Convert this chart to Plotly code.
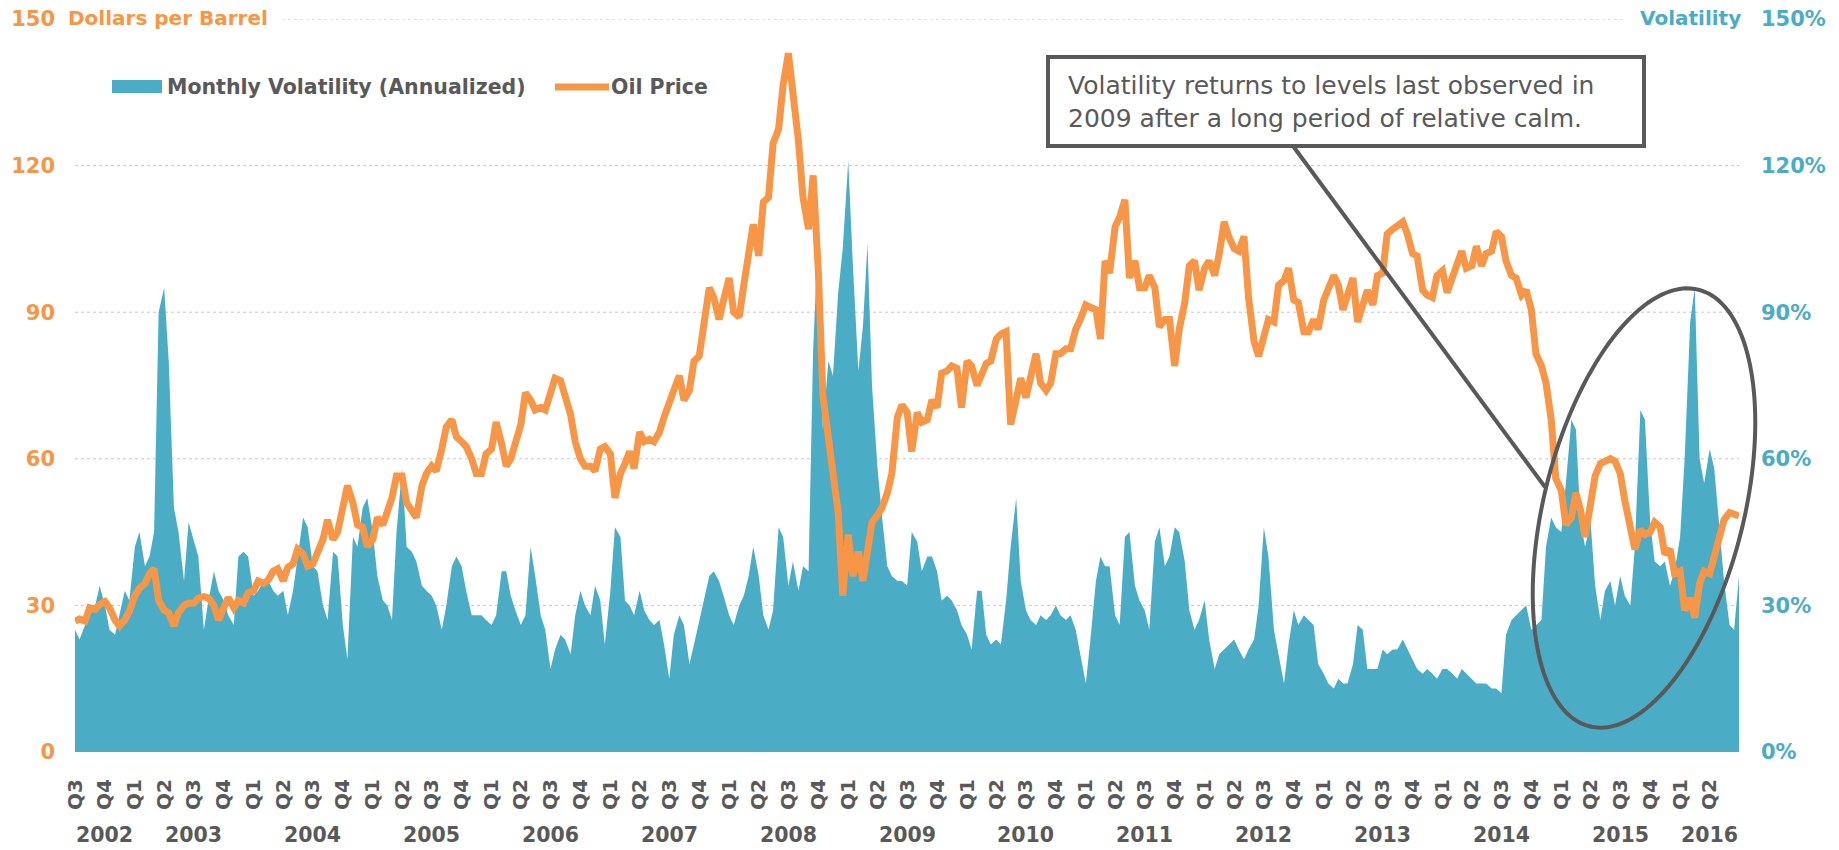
import numpy as np
import pandas as pd
import plotly.graph_objects as go

# ---------------- data (semi-monthly readings, 1st & 15th of each month, plus 30 Jun 2016) -------------
price_2002 = [26.8, 27.2, 26.8, 29.5, 29.2, 30.2, 30.8, 29.5, 27.0, 25.8, 27.0, 28.8]
price_2003 = [32.0, 33.5, 34.5, 36.5, 37.5, 31.0, 29.0, 28.5, 25.8, 28.5, 30.0, 30.5,
              30.5, 31.5, 31.8, 31.5, 30.0, 27.0, 29.5, 31.6, 29.5, 31.0, 30.5, 32.6]
price_2004 = [33.0, 35.0, 34.5, 35.2, 37.0, 37.5, 35.0, 37.8, 38.5, 41.5, 40.5, 38.0,
              38.5, 41.0, 43.5, 47.5, 43.5, 45.0, 50.0, 54.5, 51.0, 46.5, 46.0, 42.0]
price_2005 = [43.5, 48.0, 46.5, 49.5, 52.0, 56.5, 56.5, 51.0, 49.5, 48.0, 54.5, 57.0,
              58.5, 57.5, 62.0, 66.5, 68.0, 64.5, 63.5, 62.5, 60.0, 57.0, 57.0, 61.0]
price_2006 = [62.0, 67.5, 63.0, 58.5, 60.0, 63.0, 67.0, 73.5, 72.0, 70.0, 70.5, 70.0,
              74.0, 76.5, 76.0, 73.0, 69.0, 63.5, 60.0, 58.5, 58.5, 57.5, 62.0, 62.5]
price_2007 = [61.0, 52.0, 57.0, 59.0, 61.5, 58.0, 65.5, 63.5, 64.0, 63.5, 65.5, 68.5,
              71.0, 74.0, 77.0, 72.0, 74.0, 80.0, 81.0, 87.0, 95.0, 93.0, 88.5, 92.5]
price_2008 = [97.0, 90.0, 89.0, 95.5, 102.5, 108.0, 101.5, 112.5, 113.5, 124.5, 127.5, 136.5,
              143.0, 136.0, 125.0, 113.5, 107.0, 118.0, 98.5, 73.0, 65.0, 56.0, 49.0, 32.0]
price_2009 = [44.5, 36.0, 41.0, 35.0, 42.0, 47.0, 48.5, 50.0, 53.0, 57.0, 68.5, 71.0,
              69.5, 61.5, 69.5, 67.5, 68.0, 72.0, 70.5, 77.5, 78.0, 79.0, 78.5, 70.5]
price_2010 = [80.0, 79.0, 75.0, 77.5, 79.5, 80.0, 84.5, 85.5, 86.0, 67.0, 72.5, 76.5,
              72.5, 76.5, 81.5, 75.5, 74.0, 75.5, 81.5, 81.5, 82.5, 82.5, 86.5, 88.5]
price_2011 = [91.5, 91.0, 90.5, 84.5, 100.5, 98.0, 107.5, 109.5, 113.0, 97.0, 100.5, 95.0,
              95.0, 97.5, 95.0, 87.0, 88.5, 88.5, 79.0, 86.5, 92.0, 99.5, 100.5, 94.5]
price_2012 = [99.0, 100.5, 97.5, 102.0, 108.5, 105.5, 103.0, 102.5, 105.5, 93.0, 84.0, 81.0,
              85.0, 88.5, 88.0, 95.5, 96.5, 99.0, 92.5, 92.0, 86.0, 86.0, 88.5, 86.5]
price_2013 = [92.5, 94.5, 97.5, 95.5, 90.5, 93.5, 97.0, 88.0, 91.0, 94.5, 91.5, 97.5,
              98.0, 106.0, 107.0, 107.5, 108.5, 106.0, 102.0, 101.5, 94.5, 93.5, 93.0, 97.5]
price_2014 = [98.5, 94.0, 97.5, 100.5, 102.5, 99.0, 99.5, 103.5, 99.5, 102.0, 102.5, 106.5,
              105.5, 100.5, 97.5, 97.0, 93.5, 94.5, 90.5, 81.5, 79.0, 75.5, 68.0, 56.0]
price_2015 = [53.5, 46.5, 48.0, 53.0, 49.5, 44.0, 50.0, 56.5, 59.0, 59.5, 60.0, 59.5,
              57.0, 51.5, 46.5, 41.5, 45.5, 44.5, 45.0, 47.0, 46.0, 40.5, 41.5, 36.5]
price_2016 = [37.0, 29.0, 31.5, 27.5, 34.5, 37.0, 36.5, 40.5, 45.0, 47.5, 49.0, 48.5, 48.3]

vol_2002 = [25, 23, 26, 28, 30, 34, 30, 25, 24, 28, 33, 31]
vol_2003 = [42, 45, 38, 40, 45, 90, 95, 80, 50, 45, 35, 47, 43, 40, 25, 31, 37, 33, 31, 28, 26, 40, 41, 40]
vol_2004 = [32, 33, 35, 35, 33, 32, 33, 28, 33, 40, 48, 46, 38, 37, 30, 27, 41, 40, 26, 19, 44, 42, 50, 52]
vol_2005 = [45, 36, 31, 30, 27, 45, 58, 42, 41, 39, 34, 33, 32, 30, 25, 30, 38, 40, 38, 33, 28, 28, 28, 27]
vol_2006 = [26, 28, 37, 37, 32, 29, 26, 28, 42, 36, 28, 25, 17, 21, 24, 23, 20, 28, 33, 30, 28, 34, 31, 22]
vol_2007 = [33, 46, 44, 31, 30, 28, 33, 29, 27, 26, 27, 22, 15, 24, 28, 26, 18, 22, 27, 31, 36, 37, 35, 32]
vol_2008 = [28, 26, 30, 32, 36, 42, 36, 28, 25, 29, 46, 44, 34, 39, 33, 38, 37, 82, 107, 66, 80, 77, 94, 103]
vol_2009 = [121, 100, 78, 87, 104, 75, 58, 48, 38, 36, 35, 35, 34, 45, 43, 37, 40, 40, 37, 31, 32, 31, 29, 26]
vol_2010 = [24, 21, 33, 33, 24, 22, 23, 22, 31, 42, 52, 35, 29, 27, 26, 28, 27, 28, 30, 28, 27, 28, 25, 20]
vol_2011 = [14, 23, 35, 40, 38, 38, 28, 26, 44, 45, 34, 31, 29, 25, 43, 46, 38, 40, 46, 45, 39, 29, 25, 27]
vol_2012 = [31, 23, 17, 20, 21, 22, 23, 21, 19, 21, 23, 30, 46, 40, 25, 20, 14, 22, 29, 26, 28, 27, 26, 18]
vol_2013 = [16, 14, 13, 15, 14, 14, 18, 26, 25, 17, 17, 17, 21, 20, 21, 21, 23, 21, 19, 17, 16, 17, 16, 15]
vol_2014 = [17, 17, 16, 15, 17, 16, 15, 14, 14, 14, 13, 13, 12, 24, 27, 28, 29, 30, 25, 26, 27, 42, 48, 46]
vol_2015 = [45, 55, 68, 66, 47, 42, 47, 34, 27, 33, 35, 30, 36, 32, 30, 42, 70, 68, 47, 39, 38, 39, 34, 37]
vol_2016 = [44, 60, 88, 95, 60, 55, 62, 58, 45, 35, 26, 25, 36]

quarter_labels = ["Q3", "Q4"] + ["Q1", "Q2", "Q3", "Q4"] * 13 + ["Q1", "Q2"]
year_labels = [str(y) for y in range(2002, 2017)]
year_label_dates = ["2002-10-01"] + [f"{y}-07-01" for y in range(2003, 2016)] + ["2016-04-01"]
left_ticks = [0, 30, 60, 90, 120, 150]
left_tick_text = ["0", "30", "60", "90", "120", "150"]
right_tick_text = ["0%", "30%", "60%", "90%", "120%", "150%"]

price = (price_2002 + price_2003 + price_2004 + price_2005 + price_2006 + price_2007 + price_2008 +
         price_2009 + price_2010 + price_2011 + price_2012 + price_2013 + price_2014 + price_2015 + price_2016)
vol = (vol_2002 + vol_2003 + vol_2004 + vol_2005 + vol_2006 + vol_2007 + vol_2008 +
       vol_2009 + vol_2010 + vol_2011 + vol_2012 + vol_2013 + vol_2014 + vol_2015 + vol_2016)
dates = list(pd.date_range("2002-07-01", "2016-06-15", freq="SMS")) + [pd.Timestamp("2016-06-30")]
assert len(dates) == len(price) == len(vol), (len(dates), len(price), len(vol))

quarter_ticks = list(pd.date_range("2002-07-01", "2016-04-01", freq="QS"))

# ---------------- style ----------------
ORANGE = "#F79646"
TEAL = "#4BACC6"
GRAY = "#595959"
FONT = "DejaVu Sans"

W, H = 1839, 850
PLOT_X0, PLOT_X1, PLOT_Y0, PLOT_Y1 = 75, 1739, 19, 752   # plot area in window pixels
L, T = PLOT_X0, PLOT_Y0
R, B = W - PLOT_X1, H - PLOT_Y1
PW, PH = PLOT_X1 - PLOT_X0, PLOT_Y1 - PLOT_Y0


def px(x):
    return (x - PLOT_X0) / PW


def py(y):
    return (PLOT_Y1 - y) / PH


fig = go.Figure()
# volatility area on the left axis so the price line (right-axis layer) is drawn on top;
# both axes share the same 0-150 scale.
fig.add_trace(go.Scatter(x=dates, y=vol, yaxis="y", mode="lines", line=dict(width=0, color=TEAL),
                         fill="tozeroy", fillcolor=TEAL, name="Monthly Volatility (Annualized)",
                         showlegend=False, hoverinfo="skip"))
fig.add_trace(go.Scatter(x=dates, y=price, yaxis="y2", mode="lines",
                         line=dict(width=7, color=ORANGE), name="Oil Price", showlegend=False))

shapes = []
for v in [0, 30, 60, 90, 120]:
    shapes.append(dict(type="line", xref="paper", yref="y", x0=0, x1=1, y0=v, y1=v,
                       line=dict(color="#C8C8C8", width=1, dash="dot"), layer="below"))
shapes.append(dict(type="line", xref="paper", yref="y", x0=px(282), x1=px(1623), y0=150, y1=150,
                   line=dict(color="#C8C8C8", width=1, dash="dot"), layer="below"))

# legend (manual)
shapes.append(dict(type="rect", xref="paper", yref="paper", x0=px(112), x1=px(162), y0=py(93), y1=py(80),
                   fillcolor=TEAL, line=dict(width=0)))
shapes.append(dict(type="line", xref="paper", yref="paper", x0=px(555), x1=px(609), y0=py(87), y1=py(87),
                   line=dict(color=ORANGE, width=7)))

# callout box and pointer
shapes.append(dict(type="rect", xref="paper", yref="paper", x0=px(1048), x1=px(1644), y0=py(146), y1=py(57),
                   fillcolor="white", line=dict(color=GRAY, width=4), layer="above"))
shapes.append(dict(type="line", xref="paper", yref="paper", x0=px(1293), y0=py(146), x1=px(1545), y1=py(487),
                   line=dict(color=GRAY, width=4), layer="above"))

# ellipse
cx, cy, a, b, th = 1644, 508, 225, 100, np.radians(14)
t = np.linspace(0, 2 * np.pi, 160)
ex = cx + a * np.cos(t) * np.sin(th) + b * np.sin(t) * np.cos(th)
ey = cy - a * np.cos(t) * np.cos(th) + b * np.sin(t) * np.sin(th)
path = "M " + " L ".join(f"{px(x):.5f},{py(y):.5f}" for x, y in zip(ex, ey)) + " Z"
shapes.append(dict(type="path", xref="paper", yref="paper", path=path, line=dict(color=GRAY, width=4),
                   layer="above"))

annotations = [
    dict(text="Dollars per Barrel", xref="paper", yref="paper", x=px(66), y=py(18), xanchor="left",
         yanchor="middle", showarrow=False, font=dict(family=FONT, size=20, color=ORANGE, weight="bold")),
    dict(text="Volatility", xref="paper", yref="paper", x=px(1743), y=py(18), xanchor="right",
         yanchor="middle", showarrow=False, font=dict(family=FONT, size=20, color=TEAL, weight="bold")),
    dict(text="Monthly Volatility (Annualized)", xref="paper", yref="paper", x=px(165), y=py(87),
         xanchor="left", yanchor="middle", showarrow=False,
         font=dict(family=FONT, size=20.5, color=GRAY, weight="bold")),
    dict(text="Oil Price", xref="paper", yref="paper", x=px(609), y=py(87),
         xanchor="left", yanchor="middle", showarrow=False,
         font=dict(family=FONT, size=20.5, color=GRAY, weight="bold")),
    dict(text="Volatility returns to levels last observed in<br>2009 after a long period of relative calm.",
         xref="paper", yref="paper", x=px(1066), y=py(102), xanchor="left", yanchor="middle", align="left",
         showarrow=False, font=dict(family=FONT, size=25, color=GRAY)),
]
for lbl, d in zip(year_labels, year_label_dates):
    annotations.append(dict(text=lbl, xref="x", yref="paper", x=d, y=py(835), xanchor="center",
                            yanchor="middle", showarrow=False,
                            font=dict(family=FONT, size=20.5, color=GRAY, weight="bold")))

fig.update_layout(
    template="none",
    width=W, height=H,
    margin=dict(l=L, r=R, t=T, b=B, pad=0, autoexpand=False),
    paper_bgcolor="white", plot_bgcolor="white",
    showlegend=False,
    font=dict(family=FONT, color=GRAY),
    xaxis=dict(type="date", range=["2002-07-01", "2016-06-30"], tickmode="array",
               tickvals=quarter_ticks, ticktext=quarter_labels, tickangle=-90, automargin=False,
               tickfont=dict(family=FONT, size=20, color=GRAY, weight="bold"), ticklabeloverflow="allow",
               showgrid=False, zeroline=False, showline=False, ticks="", ticklabelstandoff=22),
    yaxis=dict(range=[0, 150], tickmode="array", tickvals=left_ticks, ticktext=left_tick_text,
               automargin=False, ticklabeloverflow="allow",
               tickfont=dict(family=FONT, size=21, color=ORANGE, weight="bold"),
               showgrid=False, zeroline=False, showline=False, ticks="", ticklabelstandoff=19),
    yaxis2=dict(range=[0, 150], overlaying="y", side="right", tickmode="array",
                tickvals=left_ticks, ticktext=right_tick_text, automargin=False, ticklabeloverflow="allow",
                tickfont=dict(family=FONT, size=21, color=TEAL, weight="bold"),
                showgrid=False, zeroline=False, showline=False, ticks="", ticklabelstandoff=21),
    shapes=shapes,
    annotations=annotations,
)

# remove the default 8px page margin so the figure sits exactly in the 1839x850 window
fig.write_html("out.html", config={"displayModeBar": False},
               post_script="document.body.style.margin='0px';document.body.style.overflow='hidden';")
